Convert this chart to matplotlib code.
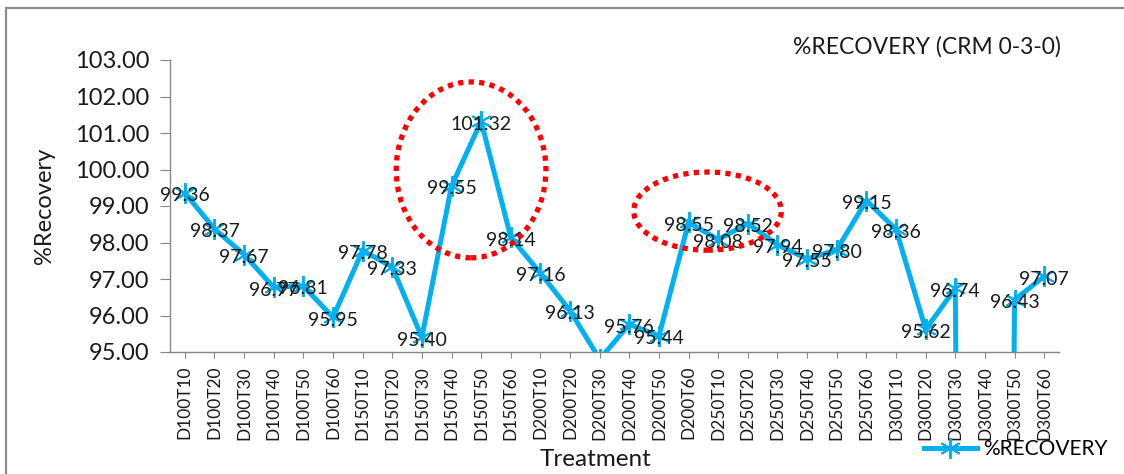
import matplotlib
matplotlib.use("Agg")
import matplotlib.pyplot as plt
from matplotlib.patches import Ellipse, Rectangle
from matplotlib.lines import Line2D

plt.rcParams['font.family'] = ['Lato', 'DejaVu Sans']

# Treatment codes and measured recovery (%)
treatments = [
    "D100T10", "D100T20", "D100T30", "D100T40", "D100T50", "D100T60",
    "D150T10", "D150T20", "D150T30", "D150T40", "D150T50", "D150T60",
    "D200T10", "D200T20", "D200T30", "D200T40", "D200T50", "D200T60",
    "D250T10", "D250T20", "D250T30", "D250T40", "D250T50", "D250T60",
    "D300T10", "D300T20", "D300T30", "D300T40", "D300T50", "D300T60",
]
recovery = [
    99.36, 98.37, 97.67, 96.77, 96.81, 95.95,
    97.78, 97.33, 95.40, 99.55, 101.32, 98.14,
    97.16, 96.13, 94.80, 95.76, 95.44, 98.55,
    98.08, 98.52, 97.94, 97.55, 97.80, 99.15,
    98.36, 95.62, 96.74, 0.00, 96.43, 97.07,
]
y_ticks = [95, 96, 97, 98, 99, 100, 101, 102, 103]

# Highlighted regions: (center x, center y, width, height) in data units
highlights = [
    (9.66, 99.99, 5.05, 4.82),
    (17.64, 98.86, 4.98, 2.14),
]

BLUE = "#00B0F0"
GRAY = "#868686"
TEXT = "#1a1a1a"

fig = plt.figure(figsize=(11.24, 4.74), dpi=100)
ax = fig.add_axes([170 / 1124, 1 - 352 / 474, 889 / 1124, 292 / 474])

x = list(range(len(treatments)))
ax.plot(x, recovery, color=BLUE, lw=3.6, marker=(6, 2, 0), ms=15,
        mec=BLUE, mfc=BLUE, mew=1.4, solid_joinstyle='miter', zorder=3)

ymin, ymax = y_ticks[0], y_ticks[-1]
for xi, v in zip(x, recovery):
    if ymin <= v <= ymax:
        ax.annotate(f"{v:.2f}", (xi, v), xytext=(0, -2), textcoords='offset points',
                    ha='center', va='center', fontsize=14, color=TEXT, zorder=4)

for cx, cy, w, h in highlights:
    ax.add_patch(Ellipse((cx, cy), w, h, fill=False, ec="#FF0000", lw=3.8,
                         ls=(0, (1, 1)), zorder=5, clip_on=False))

ax.set_xlim(-0.5, len(treatments) - 0.5)
ax.set_ylim(ymin, ymax)
ax.set_yticks(y_ticks)
ax.set_yticklabels([f"{t:.2f}" for t in y_ticks], fontsize=17, color=TEXT)
ax.set_xticks(x)
ax.set_xticklabels(treatments, rotation=90, fontsize=12.5, color=TEXT)

for s in ("top", "right"):
    ax.spines[s].set_visible(False)
for s in ("left", "bottom"):
    ax.spines[s].set_color(GRAY)
    ax.spines[s].set_linewidth(1.0)
ax.tick_params(axis='y', length=7, color=GRAY, pad=8)
ax.tick_params(axis='x', length=4, color=GRAY, pad=6)

ax.set_ylabel("%Recovery", fontsize=17, color=TEXT, labelpad=14)
fig.text(595 / 1124, 1 - 460 / 474, "Treatment", ha='center', va='center',
         fontsize=17.5, color=TEXT)
fig.text(927 / 1124, 1 - 47 / 474, "%RECOVERY (CRM 0-3-0)", ha='center', va='center',
         fontsize=16.5, color=TEXT)

# legend
leg_handle = Line2D([], [], color=BLUE, lw=3.6, marker=(6, 2, 0), ms=15, mew=1.4)
fig.legend([leg_handle], ["%RECOVERY"], loc='center left',
           bbox_to_anchor=(914 / 1124, 1 - 449 / 474), frameon=False,
           fontsize=15, handlelength=2.5, handletextpad=0.3, borderpad=0)

# chart-area frame
fig.add_artist(Rectangle((6 / 1124, -0.05), 1.2, (474 - 8) / 474 + 0.05,
                         transform=fig.transFigure, fill=False, ec="#8c8c8c", lw=1.6))

fig.savefig("out.png", dpi=100)
